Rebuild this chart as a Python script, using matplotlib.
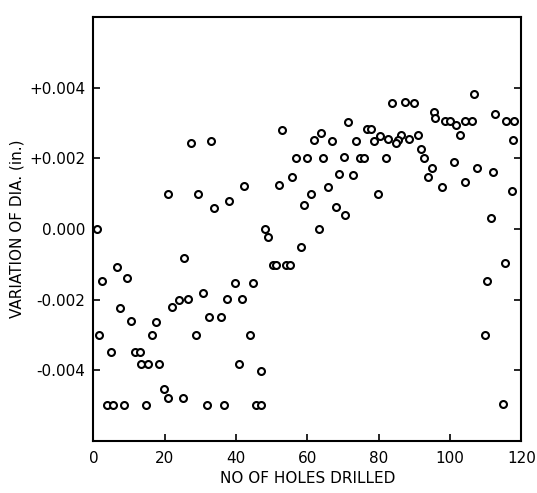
import matplotlib
matplotlib.use("Agg")
import matplotlib.pyplot as plt

# hole number and diameter variation (in.)
holes = [
    1.1, 20.8, 6.7, 2.3, 9.3, 22.1, 7.4, 10.6, 17.6, 1.5,
    16.4, 4.8, 11.6, 13.0, 13.4, 15.4, 18.4, 19.8, 20.9, 3.7,
    5.6, 8.7, 14.7, 27.3, 32.9, 29.2, 33.9, 38.1, 42.2, 48.2,
    48.9, 25.3, 39.6, 44.8, 30.6, 23.9, 26.5, 37.5, 41.7, 32.4,
    35.8, 28.7, 43.9, 40.7, 47.1, 25.1, 31.9, 36.7, 45.6, 46.9,
    71.4, 53.0, 61.9, 63.9, 66.9, 56.9, 59.8, 64.5, 70.3, 68.9,
    55.7, 51.9, 65.9, 61.0, 59.0, 67.9, 70.4, 63.2, 58.2, 50.4,
    51.3, 53.9, 55.0, 83.6, 87.4, 90.0, 95.4, 95.7, 76.6, 77.9,
    80.4, 82.7, 86.2, 85.4, 84.8, 88.5, 90.9, 78.7, 73.7, 91.8,
    92.6, 74.8, 76.0, 82.0, 94.8, 93.9, 72.8, 79.8, 106.8, 98.7,
    100.1, 101.7, 102.9, 104.3, 106.1, 112.7, 115.8, 117.8, 117.6, 101.0,
    97.7, 107.5, 104.1, 111.9, 117.3, 111.6, 115.3, 110.3, 109.7, 114.8,
]
variation = [
    0.0000, 0.0010, -0.00107, -0.00146, -0.00140, -0.00221, -0.00223, -0.00260, -0.00263, -0.00299,
    -0.00300, -0.00349, -0.00349, -0.00349, -0.00382, -0.00382, -0.00382, -0.00452, -0.00479, -0.00498,
    -0.00498, -0.00498, -0.00498, 0.00242, 0.00249, 0.00100, 0.00060, 0.00079, 0.00121, -0.00001,
    -0.00022, -0.00082, -0.00152, -0.00153, -0.00182, -0.00200, -0.00199, -0.00198, -0.00199, -0.00250,
    -0.00250, -0.00300, -0.00301, -0.00383, -0.00403, -0.00479, -0.00499, -0.00497, -0.00497, -0.00497,
    0.00303, 0.00281, 0.00253, 0.00272, 0.00250, 0.00202, 0.00200, 0.00202, 0.00204, 0.00156,
    0.00146, 0.00124, 0.00119, 0.00099, 0.00068, 0.00062, 0.00039, 0.00001, -0.00051, -0.00103,
    -0.00103, -0.00103, -0.00103, 0.00358, 0.00360, 0.00358, 0.00330, 0.00313, 0.00283, 0.00283,
    0.00264, 0.00255, 0.00267, 0.00253, 0.00242, 0.00254, 0.00265, 0.00250, 0.00250, 0.00227,
    0.00202, 0.00201, 0.00201, 0.00201, 0.00172, 0.00146, 0.00152, 0.00099, 0.00381, 0.00305,
    0.00305, 0.00294, 0.00266, 0.00307, 0.00307, 0.00326, 0.00306, 0.00306, 0.00252, 0.00190,
    0.00118, 0.00173, 0.00134, 0.00162, 0.00107, 0.00030, -0.00095, -0.00147, -0.00301, -0.00494,
]

x_ticks = [0, 20, 40, 60, 80, 100, 120]
y_ticks = [-0.004, -0.002, 0.0, 0.002, 0.004]
y_tick_labels = ["-0.004", "-0.002", "0.000", "+0.002", "+0.004"]

fig = plt.figure(figsize=(5.37, 4.93), dpi=100)
ax = fig.add_axes([0.174, 0.1055, 0.797, 0.86])

ax.plot(holes, variation, linestyle="none", marker="o", markersize=5,
        markerfacecolor="white", markeredgecolor="black", markeredgewidth=1.5)

ax.set_xlim(0, 120)
ax.set_ylim(-0.006, 0.006)
ax.set_xticks(x_ticks)
ax.set_yticks(y_ticks)
ax.set_yticklabels(y_tick_labels)
ax.tick_params(direction="in", length=5, width=1.2, labelsize=11,
               top=False, right=True)
ax.tick_params(axis="x", pad=7)
ax.tick_params(axis="y", pad=6)

for s in ax.spines.values():
    s.set_linewidth(1.5)

ax.set_xlabel("NO OF HOLES DRILLED", fontsize=11)
ax.set_ylabel("VARIATION OF DIA. (in.)", fontsize=11)
ax.xaxis.set_label_coords(0.5, -0.07)
ax.yaxis.set_label_coords(-0.162, 0.5)

fig.savefig("out.png", dpi=100)
